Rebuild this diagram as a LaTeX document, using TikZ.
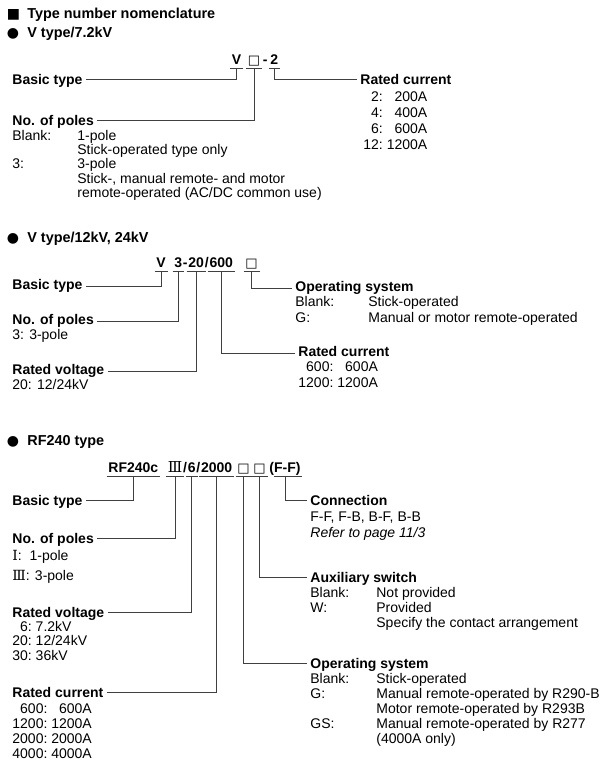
\documentclass[tikz,border=0pt]{standalone}
\usepackage{fontspec}
\setmainfont{Liberation Sans}
\newfontfamily\romfont{DejaVu Serif}
\newfontfamily\symfont{DejaVu Sans}
\newcommand{\blank}{{\symfont\mdseries\fontsize{13}{15}\selectfont □}}
\usetikzlibrary{positioning}

\begin{document}
\begin{tikzpicture}[x=1pt,y=-1pt,font=\fontsize{14}{15}\selectfont,line width=0.8pt,
  head/.style={anchor=base west,inner sep=0pt,font=\fontsize{14.4}{15}\selectfont\bfseries},
  bul/.style={anchor=base west,inner sep=0pt,font=\symfont\fontsize{14}{15}\selectfont},
  code/.style={anchor=base west,inner sep=0pt,text height=10pt,text depth=4pt,
    font=\fontsize{14}{15}\selectfont\bfseries},
  lbl/.style={anchor=base west,inner xsep=3pt,inner ysep=0pt,text height=10pt,text depth=0pt,
    font=\fontsize{14}{15}\selectfont\bfseries},
  lbltwo/.style={lbl,text height=6pt},
  lst/.style={anchor=base west,inner sep=0pt,font=\fontsize{14}{#1}\selectfont},
  lst/.default=15,
  tick/.style={draw=black!75}]
  \useasboundingbox (0,0) rectangle (600,764);

  % headings
  \node[bul] (b0) at (6.5,18.5) {■};
  \node[head] (h0) at (27,18.5) {Type number nomenclature};
  \node[bul] (b1) at (6.5,37.5) {●};
  \node[head] (h1) at (27,37.5) {V type/7.2kV};
  \node[bul] (b2) at (6.5,242.5) {●};
  \node[head] (h2) at (27,242.5) {V type/12kV, 24kV};
  \node[bul] (b3) at (6.5,445.5) {●};
  \node[head] (h3) at (27,445.5) {RF240 type};

  % type codes
  \node[code] (c1v) at (231.5,64) {V};
  \node[code] (c1p) at (247.5,64) {\blank};
  \node[code] (c1d) at (262.5,64) {-};
  \node[code] (c1c) at (270,64) {2};

  \node[code] (c2v) at (156,267) {V};
  \node[code] (c2p) at (174,267) {3};
  \node[code,right=0pt of c2p] (c2d) {-};
  \node[code,right=0pt of c2d] (c2u) {20};
  \node[code,right=0pt of c2u] (c2s) {/};
  \node[code,right=0pt of c2s] (c2c) {600};
  \node[code] (c2o) at (245,267) {\blank};

  \node[code] (c3b) at (108,472) {RF240c};
  \node[code] (c3p) at (167.5,472) {\romfont\mdseries\fontsize{15}{15}\selectfont Ⅲ};
  \node[code,right=0pt of c3p] (c3s) {/};
  \node[code,right=0pt of c3s] (c3v) {6};
  \node[code,right=0pt of c3v] (c3t) {/};
  \node[code,right=0pt of c3t] (c3c) {2000};
  \node[code] (c3o) at (237,472) {\blank};
  \node[code] (c3a) at (253,472) {\blank};
  \node[code] (c3f) at (269,472) {(F-F)};

  % underlines
  \foreach \n in {c1v,c1p,c1c,c2v,c2p,c2u,c2c,c2o,c3b,c3p,c3v,c3c,c3o,c3a}
    \draw[tick] ([xshift=-1.5pt]\n.south west) -- ([xshift=1.5pt]\n.south east);
  \draw[tick] ([xshift=5pt]c3f.south west) -- ([xshift=1.5pt]c3f.south east);

  % V type/7.2kV
  \node[lbl] (bt1) at (9,84) {Basic type};
  \node[lbl] (np1) at (9,125) {No. of poles};
  \node[lst=14.3] (np1l) at (12,140) {\begin{tabular}[t]{@{}p{65pt}@{}l@{}}
    Blank: & 1-pole\\ & Stick-operated type only\\ 3: & 3-pole\\
    & Stick-, manual remote- and motor\\ & remote-operated (AC/DC common use)\end{tabular}};
  \node[lbl] (rc1) at (357,84) {Rated current};
  \node[lst=16] (rc1l) at (363,101) {\begin{tabular}[t]{@{}r@{\hspace{4pt}}r@{}}
    2: & 200A\\ 4: & 400A\\ 6: & 600A\\ 12: & 1200A\end{tabular}};

  \draw[tick] (c1v.south) |- (bt1.east);
  \draw[tick] (c1p.south) |- (np1.east);
  \draw[tick] (c1c.south) |- (rc1.west);

  % V type/12kV, 24kV
  \node[lbltwo] (bt2) at (9,289) {Basic type};
  \node[lbltwo] (np2) at (9,324) {No. of poles};
  \node[lst] (np2l) at (12,339) {3: 3-pole};
  \node[lbltwo] (rv2) at (9,374) {Rated voltage};
  \node[lst] (rv2l) at (12,389) {20: 12/24kV};
  \node[lbltwo] (os2) at (292,291) {Operating system};
  \node[lst=15.5] (os2l) at (295,306.5) {\begin{tabular}[t]{@{}p{73pt}@{}l@{}}
    Blank: & Stick-operated\\ G: & Manual or motor remote-operated\end{tabular}};
  \node[lbltwo] (rc2) at (295,356) {Rated current};
  \node[lst=15.5] (rc2l) at (298,371.5) {\begin{tabular}[t]{@{}r@{\hspace{4pt}}r@{}}
    600: & 600A\\ 1200: & 1200A\end{tabular}};

  \draw[tick] (c2v.south) |- (bt2.east);
  \draw[tick] (c2p.south) |- (np2.east);
  \draw[tick] (c2u.south) |- (rv2.east);
  \draw[tick] (c2c.south) |- (rc2.west);
  \draw[tick] (c2o.south) |- (os2.west);

  % RF240 type
  \node[lbl] (bt3) at (9,505) {Basic type};
  \node[lbl] (np3) at (9,543) {No. of poles};
  \node[lst=20] (np3l) at (12,560) {\begin{tabular}[t]{@{}l@{}}
    {\romfont Ⅰ}:\ \ 1-pole\\ {\romfont Ⅲ}: 3-pole\end{tabular}};
  \node[lbl] (rv3) at (9,617) {Rated voltage};
  \node[lst=14.5] (rv3l) at (12,631) {\begin{tabular}[t]{@{}r@{\ }l@{}}
    6: & 7.2kV\\ 20: & 12/24kV\\ 30: & 36kV\end{tabular}};
  \node[lbl] (rc3) at (9,697) {Rated current};
  \node[lst=15] (rc3l) at (12,713) {\begin{tabular}[t]{@{}r@{\ }r@{}}
    600: & 600A\\ 1200: & 1200A\\ 2000: & 2000A\\ 4000: & 4000A\end{tabular}};

  \node[lbl] (cn3) at (307,505) {Connection};
  \node[lst=16] (cn3l) at (310,521) {\begin{tabular}[t]{@{}l@{}}
    F-F, F-B, B-F, B-B\\ \textit{Refer to page 11/3}\end{tabular}};
  \node[lbl] (ax3) at (307,582) {Auxiliary switch};
  \node[lst] (ax3l) at (310,597) {\begin{tabular}[t]{@{}p{66pt}@{}l@{}}
    Blank: & Not provided\\ W: & Provided\\ & Specify the contact arrangement\end{tabular}};
  \node[lbl] (os3) at (307,668) {Operating system};
  \node[lst] (os3l) at (310,683) {\begin{tabular}[t]{@{}p{66pt}@{}l@{}}
    Blank: & Stick-operated\\ G: & Manual remote-operated by R290-B\\
    & Motor remote-operated by R293B\\ GS: & Manual remote-operated by R277\\
    & (4000A only)\end{tabular}};

  \draw[tick] (c3b.south) |- (bt3.east);
  \draw[tick] (c3p.south) |- (np3.east);
  \draw[tick] (c3v.south) |- (rv3.east);
  \draw[tick] (c3c.south) |- (rc3.east);
  \draw[tick] (c3o.south) |- (os3.west);
  \draw[tick] (c3a.south) |- (ax3.west);
  \draw[tick] (c3f.south) |- (cn3.west);
\end{tikzpicture}
\end{document}
